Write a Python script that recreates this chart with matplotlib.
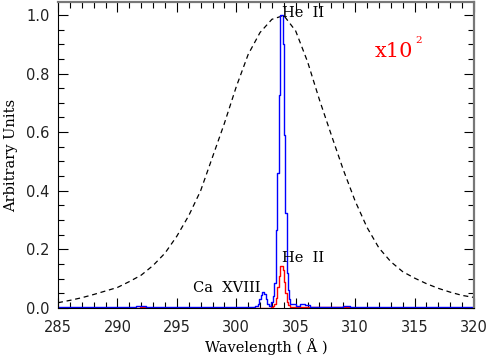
import matplotlib
matplotlib.use("Agg")
import matplotlib.pyplot as plt
import numpy as np

# filter response (dashed), sampled every 1 A
resp_wl = list(range(285, 321))
resp_val = [0.018, 0.026, 0.035, 0.046, 0.058, 0.070, 0.090, 0.112, 0.145, 0.187,
            0.245, 0.315, 0.400, 0.515, 0.630, 0.755, 0.865, 0.940, 0.985, 0.998,
            0.945, 0.840, 0.710, 0.590, 0.472, 0.365, 0.275, 0.205, 0.158, 0.124,
            0.102, 0.083, 0.067, 0.054, 0.043, 0.036]

# blue spectrum (step edges / levels)
blue_wl = [285.0, 291.6, 292.0, 292.4, 292.8, 300.0, 301.6, 301.8, 301.95, 302.1,
           302.2, 302.35, 302.5, 302.6, 302.75, 302.9, 303.05, 303.17, 303.32, 303.45,
           303.59, 303.72, 303.96, 304.04, 304.12, 304.24, 304.32, 304.42, 304.52, 304.65,
           305.0, 305.4, 305.8, 306.2, 309.0, 309.6, 320.0]
blue_val = [0.002, 0.006, 0.008, 0.005, 0.002, 0.003, 0.006, 0.015, 0.030, 0.045,
            0.054, 0.048, 0.030, 0.012, 0.006, 0.020, 0.040, 0.085, 0.266, 0.460,
            0.727, 1.000, 0.900, 0.590, 0.324, 0.120, 0.060, 0.030, 0.015, 0.012,
            0.008, 0.014, 0.010, 0.004, 0.008, 0.003, 0.003]

# red spectrum
red_wl = [285.0, 291.9, 292.4, 292.8, 302.9, 303.1, 303.2, 303.32, 303.45, 303.59,
          303.72, 303.96, 304.04, 304.12, 304.24, 304.32, 304.52, 305.0, 309.6, 320.0]
red_val = [0.000, 0.003, 0.001, 0.000, 0.003, 0.008, 0.015, 0.035, 0.070, 0.110,
           0.143, 0.130, 0.090, 0.050, 0.020, 0.010, 0.004, 0.002, 0.000, 0.000]

fig = plt.figure(figsize=(4.89, 3.58), dpi=100)
ax = fig.add_axes([0.1186, 0.1397, 0.8507, 0.8547])

ax.plot(resp_wl, resp_val, color="black", ls=(0, (4, 3)), lw=0.9)
ax.step(red_wl, red_val, where="post", color="red", lw=1.0)
ax.step(blue_wl, blue_val, where="post", color="blue", lw=1.0)

ax.set_xlim(285, 320)
ax.set_ylim(0, 1.044)
ax.set_xticks(np.arange(285, 321, 5))
ax.set_xticks(np.arange(285, 321, 1), minor=True)
ax.set_yticks(np.arange(0, 1.01, 0.2))
ax.set_yticks(np.arange(0, 1.01, 0.05), minor=True)
ax.set_yticklabels(["0.0", "0.2", "0.4", "0.6", "0.8", "1.0"])
ax.tick_params(which="both", direction="in", top=True, right=True, labelsize=10.5,
               colors="black", labelcolor="#222222")
ax.tick_params(which="major", length=7, width=0.8)
ax.tick_params(which="minor", length=4, width=0.8)
ax.tick_params(axis="x", which="major", pad=9)
ax.tick_params(axis="y", which="major", pad=6)
for s in ["top", "right"]:
    ax.spines[s].set_color("#777777")
    ax.spines[s].set_linewidth(1.6)

lab = dict(family="DejaVu Serif", fontsize=10.5)
ax.set_xlabel("Wavelength ( Å )", labelpad=2, **lab)
ax.set_ylabel("Arbitrary Units", labelpad=6, **lab)

ax.text(303.85, 1.005, "He  II", ha="left", va="center", **lab)
ax.text(303.85, 0.17, "He  II", ha="left", va="center", **lab)
ax.text(302.0, 0.068, "Ca  XVIII", ha="right", va="center", **lab)
ax.text(311.67, 0.874, "x10", color="red", ha="left", va="center",
        family="DejaVu Serif", fontsize=15)
ax.text(315.1, 0.912, "2", color="red", ha="left", va="center",
        family="DejaVu Serif", fontsize=7.5)

fig.savefig("out.png", dpi=100)
